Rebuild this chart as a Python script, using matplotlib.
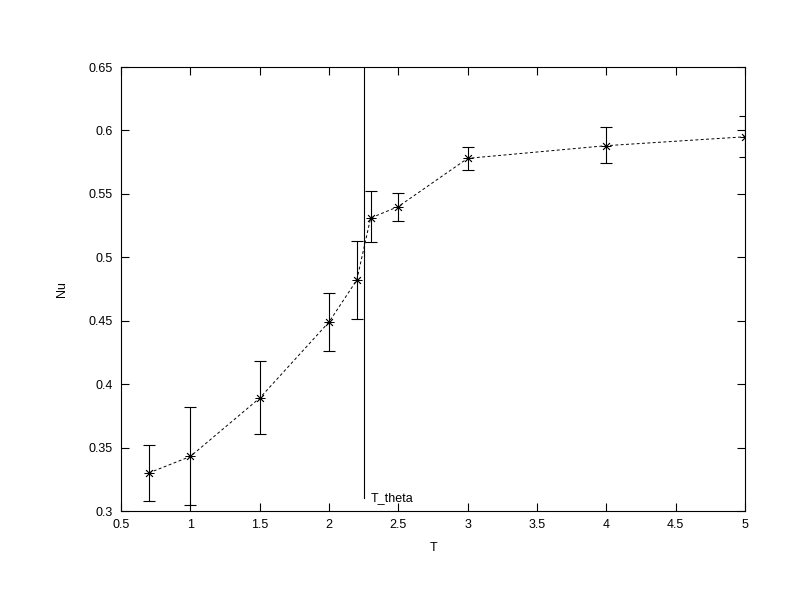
#!/usr/bin/env python3
# -*- coding: utf-8 -*-
'''
Nu versus T with error bars, gnuplot-like look
'''
import matplotlib
matplotlib.use('Agg')
import matplotlib.pyplot as plt
import numpy as np

plt.rcParams['font.family'] = ['Liberation Sans', 'DejaVu Sans']

################################################################################
# Data
################################################################################
T = np.array([0.7, 1.0, 1.5, 2.0, 2.2, 2.3, 2.5, 3.0, 4.0, 5.0])
Nu = np.array([0.330, 0.343, 0.389, 0.449, 0.482, 0.531, 0.540, 0.578, 0.588, 0.595])
Nu_low = np.array([0.308, 0.305, 0.361, 0.426, 0.451, 0.512, 0.529, 0.569, 0.574, 0.579])
Nu_high = np.array([0.352, 0.382, 0.418, 0.472, 0.513, 0.552, 0.551, 0.587, 0.603, 0.611])

T_theta = 2.25
T_theta_line = [0.31, 0.65]

xticks = [0.5, 1, 1.5, 2, 2.5, 3, 3.5, 4, 4.5, 5]
yticks = [0.3, 0.35, 0.4, 0.45, 0.5, 0.55, 0.6, 0.65]

################################################################################
# Plot
################################################################################
fig = plt.figure(figsize=(7.92, 6.12), dpi=100)
ax = fig.add_axes([0.1528, 0.165, 0.7879, 0.7255])

yerr = [Nu - Nu_low, Nu_high - Nu]
ax.errorbar(T, Nu, yerr=yerr, fmt='none', ecolor='k', elinewidth=0.8,
            capsize=4, capthick=0.8)
ax.plot(T, Nu, color='k', lw=0.7, ls=(0, (3, 2.5)),
        marker=(8, 2, 0), ms=7, mew=0.6)

ax.plot([T_theta, T_theta], T_theta_line, color='k', lw=0.8)
ax.text(T_theta + 0.05, T_theta_line[0], 'T_theta', fontsize=9,
        ha='left', va='center')

ax.set_xlim(0.5, 5)
ax.set_ylim(0.3, 0.65)
ax.set_xticks(xticks)
ax.set_yticks(yticks)
ax.set_xticklabels([('%g' % v) for v in xticks])
ax.set_yticklabels([('%g' % v) for v in yticks])
ax.tick_params(direction='in', length=6, width=0.8, labelsize=9,
               top=True, right=True, pad=6)
for sp in ax.spines.values():
    sp.set_linewidth(0.8)

ax.set_xlabel('T', fontsize=9, labelpad=8)
ax.set_ylabel('Nu', fontsize=9, labelpad=15)

fig.savefig('out.png', dpi=100)
plt.close(fig)
